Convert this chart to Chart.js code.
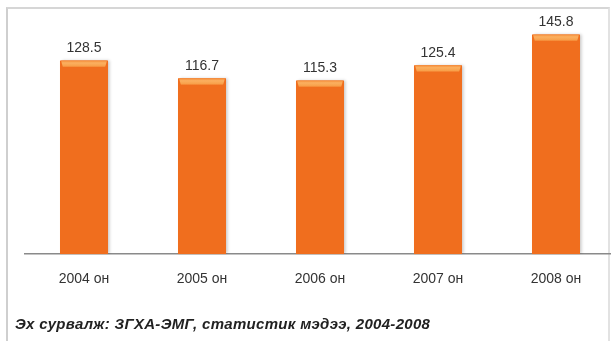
<!DOCTYPE html>
<html lang="mn">
<head>
<meta charset="utf-8">
<title>2004-2008</title>
<script src="https://cdn.jsdelivr.net/npm/chart.js@4/dist/chart.umd.min.js"></script>
<style>
  html, body { margin: 0; padding: 0; background: #ffffff; overflow: hidden; }
  #wrap { position: relative; width: 611px; height: 341px; overflow: hidden; }
  #frame {
    position: absolute; left: 6px; top: 7px; width: 600px; height: 340px;
    border-left: 2px solid #cfcfcf; border-top: 2px solid #d6d6d6; border-right: 2px solid #e2e2e2;
  }
  #cv { position: absolute; left: 0; top: 0; }
  #source {
    position: absolute; left: 15px; top: 315px;
    font: italic bold 15px "Liberation Sans", Arial, sans-serif; color: #222;
    letter-spacing: 0.3px;
    white-space: nowrap;
  }
</style>
</head>
<body>
<div id="wrap">
  <div id="frame"></div>
  <canvas id="cv" width="625" height="341"></canvas>
  <div id="source">Эх сурвалж: ЗГХА-ЭМГ, статистик мэдээ, 2004-2008</div>
</div>
<script>
// Years shown on the category axis
const years = ["2004 он", "2005 он", "2006 он", "2007 он", "2008 он"];
// Value for each year
const values = [128.5, 116.7, 115.3, 125.4, 145.8];

const ORANGE = "#f06e1e";
const ORANGE_EDGE = "#cc5510";
const ORANGE_CAP = "#f8a04a";

// Horizontal shading across each bar: darker sides, bright middle
function barFill(ctx) {
  const el = ctx.element;
  const chart = ctx.chart;
  if (!el || el.x === undefined || !isFinite(el.x)) return ORANGE;
  const half = el.width / 2;
  const g = chart.ctx.createLinearGradient(el.x - half, 0, el.x + half, 0);
  g.addColorStop(0, ORANGE_EDGE);
  g.addColorStop(0.08, ORANGE);
  g.addColorStop(0.9, ORANGE);
  g.addColorStop(1, ORANGE_EDGE);
  return g;
}

// Soft shadow behind the bars
const barShadow = {
  id: "barShadow",
  beforeDatasetDraw(chart) {
    const c = chart.ctx;
    c.save();
    c.shadowColor = "rgba(0,0,0,0.22)";
    c.shadowBlur = 3;
    c.shadowOffsetX = 2;
    c.shadowOffsetY = 0;
  },
  afterDatasetDraw(chart) {
    chart.ctx.restore();
  }
};

// Light cap on top of each bar and the value written above it
const barCaps = {
  id: "barCaps",
  afterDatasetsDraw(chart) {
    const c = chart.ctx;
    const meta = chart.getDatasetMeta(0);
    const data = chart.data.datasets[0].data;
    c.save();
    meta.data.forEach((bar, i) => {
      const half = bar.width / 2;
      const l = bar.x - half, r = bar.x + half, t = bar.y;
      const cap = c.createLinearGradient(0, t, 0, t + 7);
      cap.addColorStop(0, "#f58a36");
      cap.addColorStop(0.35, "#fbb060");
      cap.addColorStop(0.8, ORANGE_CAP);
      cap.addColorStop(1, ORANGE);
      c.fillStyle = cap;
      c.beginPath();
      c.moveTo(l + 1, t);
      c.lineTo(r - 1, t);
      c.lineTo(r - 3, t + 7);
      c.lineTo(l + 3, t + 7);
      c.closePath();
      c.fill();

      c.fillStyle = "#333333";
      c.font = '14px "Liberation Sans", Arial, sans-serif';
      c.textAlign = "center";
      c.textBaseline = "alphabetic";
      c.fillText(data[i].toFixed(1), bar.x, t - 8);
    });
    c.restore();
  }
};

new Chart(document.getElementById("cv"), {
  type: "bar",
  data: {
    labels: years,
    datasets: [{
      data: values,
      backgroundColor: barFill,
      borderWidth: 0,
      barPercentage: 0.407,
      categoryPercentage: 1.0
    }]
  },
  options: {
    responsive: false,
    animation: false,
    events: [],
    layout: { padding: { left: 25, right: 10, top: 13, bottom: 36 } },
    plugins: {
      legend: { display: false },
      tooltip: { enabled: false },
      title: { display: false }
    },
    scales: {
      x: {
        grid: { display: false, drawTicks: false },
        border: { display: true, color: "#8a8a8a", width: 1.5 },
        ticks: {
          color: "#333333",
          font: { family: '"Liberation Sans", Arial, sans-serif', size: 14 },
          padding: 17,
          maxRotation: 0
        }
      },
      y: {
        display: false,
        min: 0,
        max: 160
      }
    }
  },
  plugins: [barShadow, barCaps]
});
</script>
</body>
</html>
